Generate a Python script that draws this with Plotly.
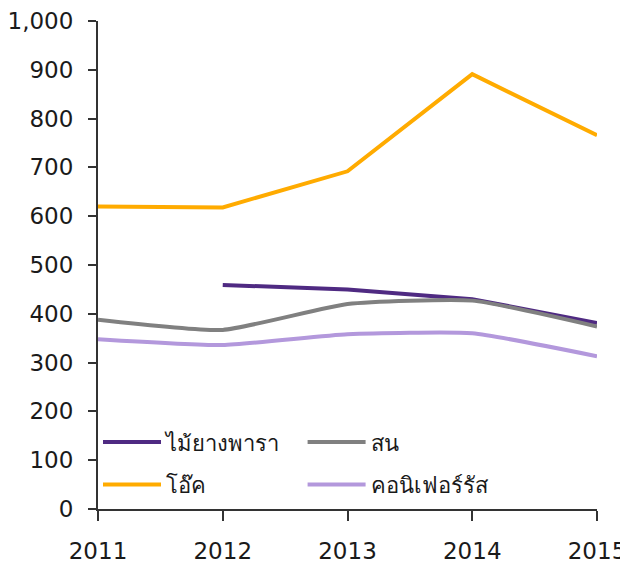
import plotly.graph_objects as go

years = [2011, 2012, 2013, 2014, 2015]
year_labels = ["2011", "2012", "2013", "2014", "2015"]
rubber = [None, 459, 450, 430, 381]
pine = [388, 367, 420, 427, 374]
oak = [620, 618, 692, 891, 766]
conifer = [348, 336, 358, 360, 313]

names = ["ไม้ยางพารา", "สน", "โอ๊ค", "คอนิเฟอร์รัส"]
colors = ["#4F2A82", "#808080", "#FFAB00", "#B398DC"]

font = "DejaVu Sans, Noto Sans, sans-serif"

fig = go.Figure()
series = [(rubber, 0, "legend"), (pine, 1, "legend2"), (oak, 2, "legend"), (conifer, 3, "legend2")]
for vals, i, lg in series:
    fig.add_trace(go.Scatter(
        x=years, y=vals, mode="lines", name=names[i],
        line=dict(color=colors[i], width=4, shape="spline", smoothing=0.5 if i in (1, 3) else 0),
        legend=lg, legendgroup=names[i],
    ))

legend_common = dict(
    font=dict(family=font, size=22, color="#1a1a1a"),
    bgcolor="rgba(0,0,0,0)", traceorder="grouped",
    itemwidth=58, tracegroupgap=11,
)

# page body adds an 8px offset, so the figure is 8px smaller
fig.update_layout(
    width=620, height=561,
    margin=dict(l=90, r=31, t=13, b=60),
    plot_bgcolor="white", paper_bgcolor="white",
    font=dict(family=font, size=23, color="#1a1a1a"),
    xaxis=dict(range=[2011, 2015], tickvals=years, ticktext=year_labels,
               showline=True, linecolor="#333333", linewidth=2,
               ticks="outside", ticklen=10, tickwidth=2, tickcolor="#333333",
               showgrid=False, zeroline=False, ticklabelstandoff=10, automargin=False),
    yaxis=dict(range=[0, 1000], dtick=100, tickformat=",",
               showline=True, linecolor="#333333", linewidth=2,
               ticks="outside", ticklen=8, tickwidth=2, tickcolor="#333333",
               showgrid=False, zeroline=False, ticklabelstandoff=10, automargin=False),
    legend=dict(x=0.0, y=0.18, xanchor="left", yanchor="top", **legend_common),
    legend2=dict(x=0.41, y=0.18, xanchor="left", yanchor="top", **legend_common),
)

fig.write_html("out.html")
